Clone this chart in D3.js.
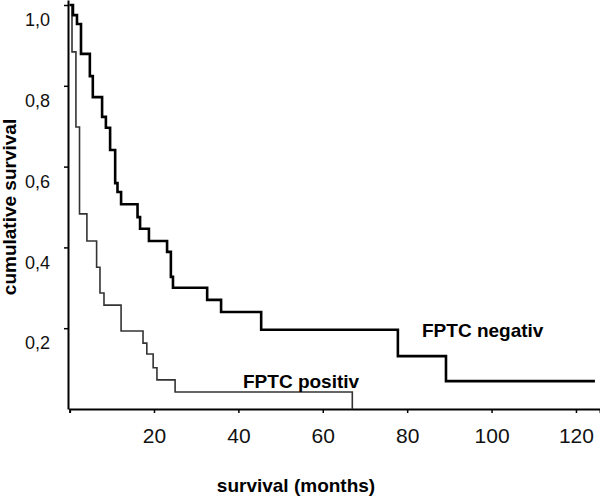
<!DOCTYPE html>
<html>
<head>
<meta charset="utf-8">
<script src="https://cdnjs.cloudflare.com/ajax/libs/d3/7.8.5/d3.min.js"></script>
<style>
    body { margin: 0; background: #fff; }
    svg { display: block; font-family: "Liberation Sans", Arial, sans-serif; }
</style>
</head>
<body>
<div id="chart"></div>
<script>
// Kaplan-Meier steps (months, cumulative survival)
const negTimes = [0, 0.8, 1.75, 2.7, 4.8, 5.5, 7.7, 8.6, 9.6, 10.8, 11.35, 12.2, 16.1, 16.7, 18.8, 23.1, 24.0, 24.5, 32.6, 35.9, 45.4, 77.8, 89.2, 124.5];
const negSurv  = [1.0, 0.975, 0.953, 0.879, 0.824, 0.772, 0.723, 0.696, 0.641, 0.559, 0.537, 0.507, 0.475, 0.446, 0.416, 0.389, 0.327, 0.300, 0.270, 0.240, 0.196, 0.131, 0.069, 0.069];

const posTimes = [0, 0.57, 1.5, 2.35, 4.1, 6.4, 7.2, 8.15, 12.2, 17.4, 18.3, 19.8, 20.7, 25.0, 67.0];
const posSurv  = [1.0, 0.884, 0.698, 0.483, 0.416, 0.351, 0.287, 0.257, 0.193, 0.163, 0.136, 0.102, 0.072, 0.042, 0.0];

const xTicks = [20, 40, 60, 80, 100, 120];
const yTicks = [0.2, 0.4, 0.6, 0.8, 1.0];
const yTickLabels = ["0,2", "0,4", "0,6", "0,8", "1,0"];

const width = 600, height = 496;

const svg = d3.select("#chart").append("svg")
    .attr("width", width)
    .attr("height", height);

const x = d3.scaleLinear().domain([0, 125.7]).range([69.6, 600]);
const y = d3.scaleLinear().domain([0, 1.0124]).range([409, 0]);

// axes
const xAxis = svg.append("g")
    .attr("transform", "translate(0,409)")
    .call(d3.axisBottom(x).tickValues(xTicks).tickSize(4).tickPadding(15).tickSizeOuter(4));
xAxis.select(".domain").attr("stroke-width", 2);
xAxis.selectAll(".tick line").attr("stroke-width", 1.5);
xAxis.selectAll("text").attr("font-size", 21).attr("fill", "#111");

const yAxis = svg.append("g")
    .attr("transform", "translate(68,0)")
    .call(d3.axisLeft(y).tickValues(yTicks).tickSize(4).tickPadding(14).tickSizeOuter(0)
        .tickFormat((d, i) => yTickLabels[i]));
yAxis.select(".domain").attr("stroke-width", 2);
yAxis.selectAll(".tick line").attr("stroke-width", 1.5);
yAxis.selectAll("text").attr("font-size", 18).attr("fill", "#111").attr("dy", "1.15em");

// curves
const line = d3.line()
    .x(d => x(d[0]))
    .y(d => y(d[1]))
    .curve(d3.curveStepAfter);

svg.append("path")
    .datum(d3.zip(posTimes, posSurv))
    .attr("fill", "none")
    .attr("stroke", "#333")
    .attr("stroke-width", 1.6)
    .attr("d", line);

svg.append("path")
    .datum(d3.zip(negTimes, negSurv))
    .attr("fill", "none")
    .attr("stroke", "#000")
    .attr("stroke-width", 2.6)
    .attr("d", line);

// curve labels
svg.append("text")
    .attr("x", 422).attr("y", 337)
    .attr("font-size", 19).attr("font-weight", "bold")
    .text("FPTC negativ");

svg.append("text")
    .attr("x", 243).attr("y", 388)
    .attr("font-size", 19).attr("font-weight", "bold")
    .text("FPTC positiv");

// axis titles
svg.append("text")
    .attr("x", 296).attr("y", 492)
    .attr("text-anchor", "middle")
    .attr("font-size", 19).attr("font-weight", "bold")
    .text("survival (months)");

svg.append("text")
    .attr("transform", "translate(16,207) rotate(-90)")
    .attr("text-anchor", "middle")
    .attr("font-size", 19).attr("font-weight", "bold")
    .text("cumulative survival");
</script>
</body>
</html>
